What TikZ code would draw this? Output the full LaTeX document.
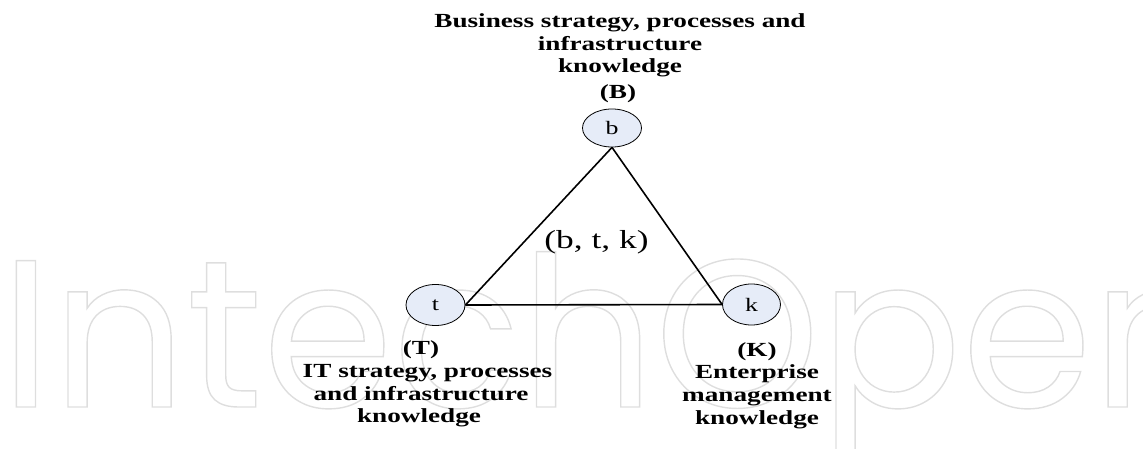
\documentclass[tikz,border=0pt]{standalone}
\usepackage{fontspec}
\setmainfont{Liberation Serif}[FakeStretch=1.36]
\newfontfamily\wmfont{Poppins}
\definecolor{ellfill}{HTML}{E6ECF8}
\definecolor{wmgray}{HTML}{DEDEDE}
\newcommand{\outlinetext}[1]{\special{pdf:code q 1 Tr 1.4 w}#1\special{pdf:code Q}}
\tikzset{
  lbl/.style={font=\bfseries\fontsize{20}{24}\selectfont, inner sep=0pt, anchor=base},
  ell/.style={ellipse, draw=black, line width=0.8pt, fill=ellfill, inner sep=0pt,
              font=\fontsize{19}{22}\selectfont},
  edge/.style={line width=1.6pt, black},
  mid/.style={font=\fontsize{26}{30}\selectfont, inner sep=0pt, anchor=base}
}
\usetikzlibrary{shapes.geometric}
\begin{document}
\begin{tikzpicture}[x=1pt,y=-1pt]
\useasboundingbox (0,0) rectangle (1143,449);
% watermark
\node[inner sep=0pt, anchor=base west, text=wmgray, font=\wmfont\fontsize{210}{210}\selectfont] (wm) at (0,407) {\outlinetext{IntechOpen}};
% top label
\node[lbl] (b1) at (620,28) {Business strategy, processes and};
\node[lbl] (b2) at (620,50.5) {infrastructure};
\node[lbl] (b3) at (620,73) {knowledge};
\node[lbl] (b4) at (618,99) {(B)};
% ellipses
\node[ell, minimum width=59pt, minimum height=38pt] (b) at (612,128) {b};
\node[ell, minimum width=59pt, minimum height=41pt] (t) at (435.5,305) {t};
\node[ell, minimum width=58pt, minimum height=41pt] (k) at (751.5,304.5) {k};
% triangle
\draw[edge] (b.south) -- (t.east);
\draw[edge] (t.east) -- (k.west);
\draw[edge] (k.west) -- (b.south);
\node[mid] (btk) at (596.5,248) {(b, t, k)};
% left label
\node[lbl] (t1) at (421,354) {(T)};
\node[lbl] (t2) at (427.5,377.5) {IT strategy, processes};
\node[lbl] (t3) at (421,400) {and infrastructure};
\node[lbl] (t4) at (419,422.5) {knowledge};
% right label
\node[lbl] (k1) at (757,356) {(K)};
\node[lbl] (k2) at (757,378) {Enterprise};
\node[lbl] (k3) at (757,401) {management};
\node[lbl] (k4) at (757,424) {knowledge};
\end{tikzpicture}
\end{document}
